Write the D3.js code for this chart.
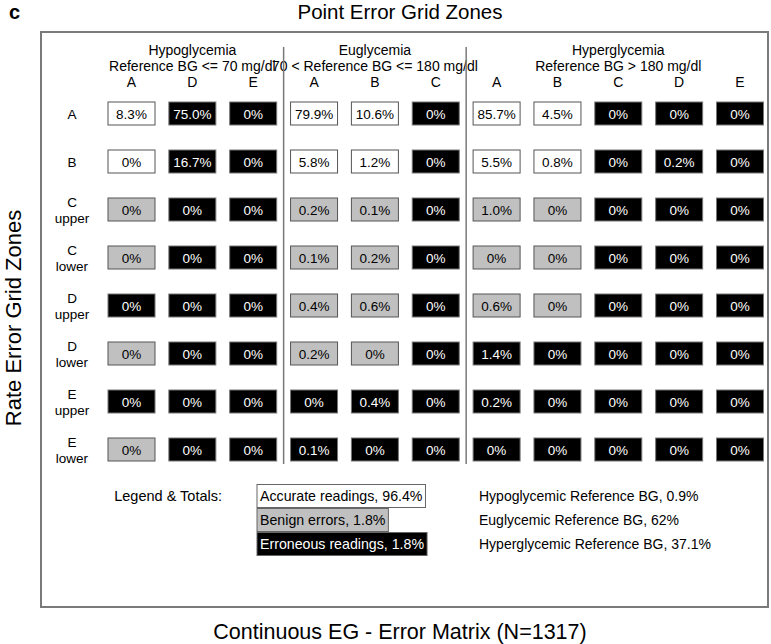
<!DOCTYPE html>
<html>
<head>
<meta charset="utf-8">
<script src="https://cdn.jsdelivr.net/npm/d3@7"></script>
<style>
  body { margin: 0; background: #fff; }
  svg text { font-family: "Liberation Sans", Arial, sans-serif; fill: #000; }
</style>
</head>
<body>
<div id="app"></div>
<script>
// ---- data ----
const groups = ["Hypoglycemia", "Euglycemia", "Hyperglycemia"];
const groupRanges = ["Reference BG <= 70 mg/dl", "70 < Reference BG <= 180 mg/dl", "Reference BG > 180 mg/dl"];
const pointZones = [["A", "D", "E"], ["A", "B", "C"], ["A", "B", "C", "D", "E"]];
const rateZones = ["A", "B", "C upper", "C lower", "D upper", "D lower", "E upper", "E lower"];

const values = [
    ["8.3%", "75.0%", "0%", "79.9%", "10.6%", "0%", "85.7%", "4.5%", "0%", "0%", "0%"],
    ["0%", "16.7%", "0%", "5.8%", "1.2%", "0%", "5.5%", "0.8%", "0%", "0.2%", "0%"],
    ["0%", "0%", "0%", "0.2%", "0.1%", "0%", "1.0%", "0%", "0%", "0%", "0%"],
    ["0%", "0%", "0%", "0.1%", "0.2%", "0%", "0%", "0%", "0%", "0%", "0%"],
    ["0%", "0%", "0%", "0.4%", "0.6%", "0%", "0.6%", "0%", "0%", "0%", "0%"],
    ["0%", "0%", "0%", "0.2%", "0%", "0%", "1.4%", "0%", "0%", "0%", "0%"],
    ["0%", "0%", "0%", "0%", "0.4%", "0%", "0.2%", "0%", "0%", "0%", "0%"],
    ["0%", "0%", "0%", "0.1%", "0%", "0%", "0%", "0%", "0%", "0%", "0%"],
];

// A = accurate, B = benign error, E = erroneous
const classes = [
    "AEEAAEAAEEE",
    "AEEAAEAAEEE",
    "BEEBBEBBEEE",
    "BEEBBEBBEEE",
    "EEEBBEBBEEE",
    "BEEBBEEEEEE",
    "EEEEEEEEEEE",
    "BEEEEEEEEEE",
];

const legendLabels = ["Accurate readings, 96.4%", "Benign errors, 1.8%", "Erroneous readings, 1.8%"];
const legendClasses = ["A", "B", "E"];
const totals = ["Hypoglycemic Reference BG, 0.9%", "Euglycemic Reference BG, 62%", "Hyperglycemic Reference BG, 37.1%"];

// ---- layout ----
const W = 771, H = 644;
const cellW = 47, cellH = 23;

const fill = { A: "#ffffff", B: "#c0c0c0", E: "#000000" };
const textFill = { A: "#000", B: "#000", E: "#fff" };

const svg = d3.select("#app").append("svg")
    .attr("width", W)
    .attr("height", H);

// flatten the columns
const columns = [];
pointZones.forEach((zs, gi) => zs.forEach((z) => columns.push({ group: gi, zone: z })));

const x = d3.scalePoint().domain(d3.range(columns.length)).range([131.5, 740]);
const y = d3.scalePoint().domain(rateZones).range([113.5, 449.5]);

// titles
svg.append("text").attr("x", 9).attr("y", 19)
    .style("font-size", "20px").style("font-weight", "bold").text("c");
svg.append("text").attr("x", 400).attr("y", 19).attr("text-anchor", "middle")
    .style("font-size", "20.5px").text("Point Error Grid Zones");
svg.append("text").attr("x", 400).attr("y", 639).attr("text-anchor", "middle")
    .style("font-size", "21.5px").text("Continuous EG - Error Matrix (N=1317)");
svg.append("text")
    .attr("transform", "translate(21,318) rotate(-90)")
    .attr("text-anchor", "middle")
    .style("font-size", "22px").text("Rate Error Grid Zones");

// frame
svg.append("rect")
    .attr("x", 41).attr("y", 32).attr("width", 727).attr("height", 575)
    .attr("fill", "none").attr("stroke", "#7a7a7a").attr("stroke-width", 2);

// group headers
const groupCenter = (gi) => d3.mean(columns.map((c, i) => (c.group === gi ? x(i) : null)).filter((v) => v !== null));

svg.selectAll(".group").data(groups).enter().append("text")
    .attr("class", "group")
    .attr("x", (d, i) => groupCenter(i)).attr("y", 55)
    .attr("text-anchor", "middle").style("font-size", "14px")
    .text((d) => d);

svg.selectAll(".range").data(groupRanges).enter().append("text")
    .attr("class", "range")
    .attr("x", (d, i) => groupCenter(i)).attr("y", 71)
    .attr("text-anchor", "middle").style("font-size", "14px")
    .text((d) => d);

svg.selectAll(".colhead").data(columns).enter().append("text")
    .attr("class", "colhead")
    .attr("x", (d, i) => x(i)).attr("y", 87)
    .attr("text-anchor", "middle").style("font-size", "14px")
    .text((d) => d.zone);

// dividers between groups
const dividers = [];
for (let i = 1; i < columns.length; i++) {
    if (columns[i].group !== columns[i - 1].group) dividers.push((x(i) + x(i - 1)) / 2);
}
svg.selectAll(".divider").data(dividers).enter().append("line")
    .attr("x1", (d) => d).attr("x2", (d) => d)
    .attr("y1", 47).attr("y2", 464)
    .attr("stroke", "#7a7a7a").attr("stroke-width", 1.5);

// row labels
const rowLabel = svg.selectAll(".rowlabel").data(rateZones).enter().append("text")
    .attr("class", "rowlabel")
    .attr("text-anchor", "middle").style("font-size", "13.5px");
rowLabel.each(function (d) {
    const parts = d.split(" ");
    const t = d3.select(this);
    parts.forEach((p, k) => {
        const off = parts.length === 1 ? 5 : (k === 0 ? -3 : 13);
        t.append("tspan").attr("x", 72).attr("y", y(d) + off).text(p);
    });
});

// cells
const cells = [];
rateZones.forEach((r, ri) => {
    values[ri].forEach((v, ci) => cells.push({ row: r, col: ci, value: v, cls: classes[ri][ci] }));
});

const cell = svg.selectAll(".cell").data(cells).enter().append("g")
    .attr("class", "cell")
    .attr("transform", (d) => `translate(${x(d.col)},${y(d.row)})`);

cell.append("rect")
    .attr("x", -cellW / 2).attr("y", -cellH / 2)
    .attr("width", cellW).attr("height", cellH)
    .attr("fill", (d) => fill[d.cls])
    .attr("stroke", (d) => (d.cls === "E" ? "#777" : "#555"))
    .attr("stroke-width", 1);

cell.append("text")
    .attr("text-anchor", "middle").attr("y", 5)
    .style("font-size", "13.5px")
    .style("fill", (d) => textFill[d.cls])
    .text((d) => d.value);

// legend
const ly = d3.scalePoint().domain(d3.range(3)).range([496, 544]);

svg.append("text").attr("x", 222).attr("y", ly(0) + 5)
    .attr("text-anchor", "end").style("font-size", "14.5px").text("Legend & Totals:");

const leg = svg.selectAll(".leg").data(legendLabels).enter().append("g")
    .attr("class", "leg")
    .attr("transform", (d, i) => `translate(257,${ly(i)})`);

leg.each(function (d, i) {
    const g = d3.select(this);
    const rect = g.append("rect");
    const t = g.append("text").attr("x", 3).attr("y", 5)
        .style("font-size", "14.2px")
        .style("fill", textFill[legendClasses[i]])
        .text(d);
    const w = t.node().getComputedTextLength() + 6;
    rect.attr("x", 0).attr("y", -11.5).attr("width", w).attr("height", 23)
        .attr("fill", fill[legendClasses[i]])
        .attr("stroke", "#666").attr("stroke-width", 1);
});

svg.selectAll(".total").data(totals).enter().append("text")
    .attr("class", "total")
    .attr("x", 479).attr("y", (d, i) => ly(i) + 5)
    .style("font-size", "14px")
    .text((d) => d);
</script>
</body>
</html>
